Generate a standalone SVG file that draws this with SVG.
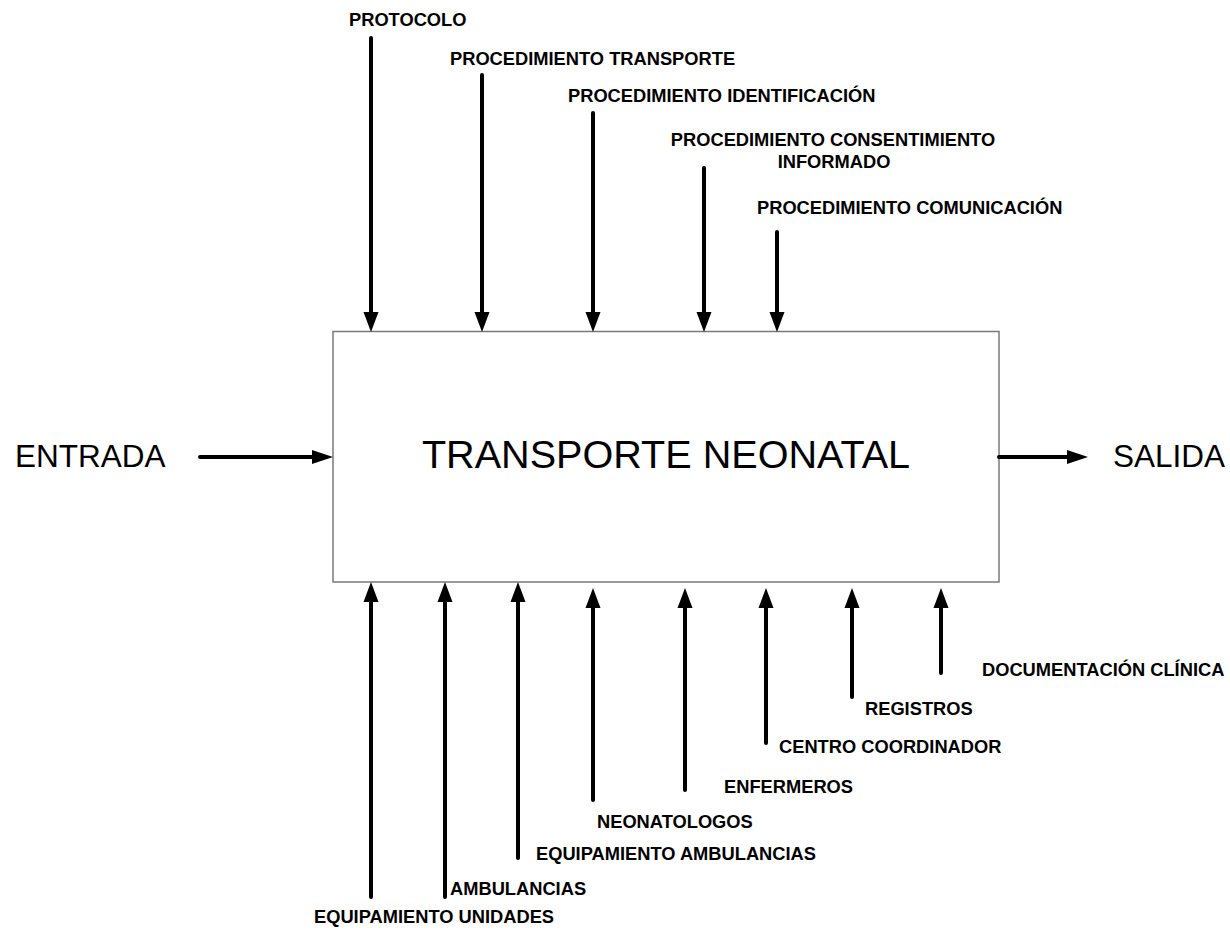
<svg xmlns="http://www.w3.org/2000/svg" width="1230" height="939" viewBox="0 0 1230 939">
  <style>
    .lbl { font-family: "Liberation Sans", Arial, sans-serif; font-weight: bold; font-size: 18.3px; fill: #000; }
    .io { font-family: "Liberation Sans", Arial, sans-serif; font-size: 31.5px; fill: #000; }
    .title { font-family: "Liberation Sans", Arial, sans-serif; font-size: 39.6px; fill: #000; }
    .arr { stroke: #000; stroke-width: 4; stroke-linecap: round; fill: none; marker-end: url(#head); }
    .arrh { stroke: #000; stroke-width: 4; stroke-linecap: round; fill: none; marker-end: url(#headh); }
  </style>
  <defs>
    <!-- arrowhead placed at the end of a shortened line; tip lies 20px beyond -->
    <marker id="head" markerUnits="userSpaceOnUse" markerWidth="22" markerHeight="16" refX="0" refY="7.5" orient="auto" overflow="visible">
      <path d="M0,0 L20,7.5 L0,15 Z" fill="#000"/>
    </marker>
    <marker id="headh" markerUnits="userSpaceOnUse" markerWidth="22" markerHeight="16" refX="0" refY="7" orient="auto" overflow="visible">
      <path d="M0,0 L21,7 L0,14 Z" fill="#000"/>
    </marker>
  </defs>

  <rect width="1230" height="939" fill="#fff"/>

  <!-- process box -->
  <g id="process">
    <rect x="333" y="331.5" width="666" height="250.5" fill="#fff" stroke="#7a7a7a" stroke-width="1.5"/>
    <text class="title" x="666" y="468" text-anchor="middle">TRANSPORTE NEONATAL</text>
  </g>

  <g id="connectors">
    <!-- controls (top) -->
    <line class="arr" x1="371" y1="38" x2="371" y2="312"/>
    <line class="arr" x1="482" y1="75" x2="482" y2="312"/>
    <line class="arr" x1="593" y1="113" x2="593" y2="312"/>
    <line class="arr" x1="704" y1="168" x2="704" y2="312"/>
    <line class="arr" x1="777" y1="232" x2="777" y2="312"/>
    <!-- input / output -->
    <line class="arrh" x1="200" y1="457" x2="312" y2="457"/>
    <line class="arrh" x1="999" y1="457" x2="1067" y2="457"/>
    <!-- mechanisms (bottom) -->
    <line class="arr" x1="371" y1="897" x2="371" y2="602"/>
    <line class="arr" x1="445" y1="897" x2="445" y2="602"/>
    <line class="arr" x1="518" y1="858" x2="518" y2="602"/>
    <line class="arr" x1="593" y1="800" x2="593" y2="608"/>
    <line class="arr" x1="685" y1="790" x2="685" y2="608"/>
    <line class="arr" x1="766" y1="743" x2="766" y2="608"/>
    <line class="arr" x1="852" y1="697" x2="852" y2="608"/>
    <line class="arr" x1="941" y1="673" x2="941" y2="608"/>
  </g>

  <g id="ctrl-protocolo"><text class="lbl" x="349" y="26">PROTOCOLO</text></g>
  <g id="ctrl-transporte"><text class="lbl" x="450" y="65">PROCEDIMIENTO TRANSPORTE</text></g>
  <g id="ctrl-identificacion"><text class="lbl" x="568" y="102">PROCEDIMIENTO IDENTIFICACIÓN</text></g>
  <g id="ctrl-consentimiento">
    <text class="lbl" x="833" y="146" text-anchor="middle">PROCEDIMIENTO CONSENTIMIENTO</text>
    <text class="lbl" x="834" y="168" text-anchor="middle">INFORMADO</text>
  </g>
  <g id="ctrl-comunicacion"><text class="lbl" x="757" y="214">PROCEDIMIENTO COMUNICACIÓN</text></g>

  <g id="input"><text class="io" x="15" y="467">ENTRADA</text></g>
  <g id="output"><text class="io" x="1113" y="467">SALIDA</text></g>

  <g id="mech-equip-unidades"><text class="lbl" x="314" y="923">EQUIPAMIENTO UNIDADES</text></g>
  <g id="mech-ambulancias"><text class="lbl" x="450" y="895">AMBULANCIAS</text></g>
  <g id="mech-equip-ambulancias"><text class="lbl" x="536" y="860">EQUIPAMIENTO AMBULANCIAS</text></g>
  <g id="mech-neonatologos"><text class="lbl" x="597" y="828">NEONATOLOGOS</text></g>
  <g id="mech-enfermeros"><text class="lbl" x="724" y="793">ENFERMEROS</text></g>
  <g id="mech-centro"><text class="lbl" x="779" y="753">CENTRO COORDINADOR</text></g>
  <g id="mech-registros"><text class="lbl" x="865" y="715">REGISTROS</text></g>
  <g id="mech-documentacion"><text class="lbl" x="982" y="676">DOCUMENTACIÓN CLÍNICA</text></g>
</svg>
